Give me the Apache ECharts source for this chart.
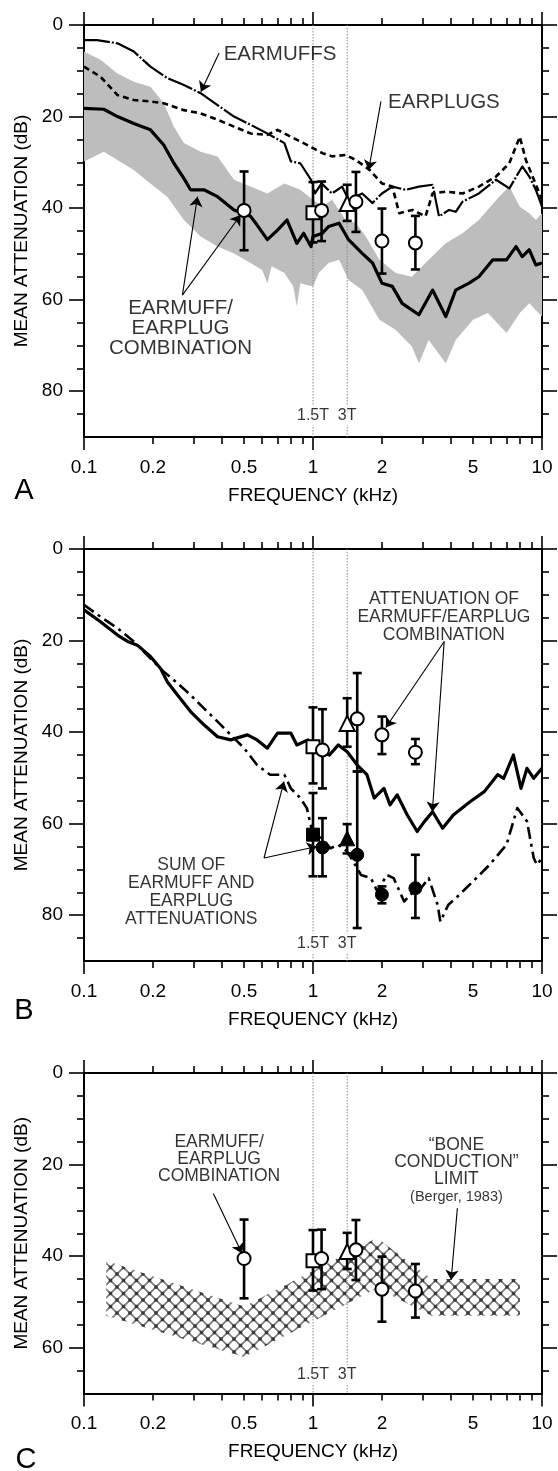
<!DOCTYPE html>
<html>
<head>
<meta charset="utf-8">
<script src="https://cdn.jsdelivr.net/npm/echarts@6/dist/echarts.min.js"></script>
<style>
  html, body { margin: 0; padding: 0; background: #fff; }
  #chart { width: 558px; height: 1471px; }
</style>
</head>
<body>
<div id="chart"></div>
<script>
// ---- axis ticks ----
const xLabelVals = [0.1, 0.2, 0.5, 1, 2, 5, 10];
const xMajorTicks = [0.1, 1, 10];
const xMinorTicks = [0.2, 0.3, 0.4, 0.5, 0.6, 0.7, 0.8, 0.9, 2, 3, 4, 5, 6, 7, 8, 9];
const yLabels90 = [0, 20, 40, 60, 80];
const yMinor90 = [5, 10, 15, 25, 30, 35, 45, 50, 55, 65, 70, 75, 85];
const yLabels70 = [0, 20, 40, 60];
const yMinor70 = [5, 10, 15, 25, 30, 35, 45, 50, 55, 65];
const tagFreq = [1, 1.41];
const tagText = ['1.5T', '3T'];

// ---- panel A ----
const aMuffFreq = [0.1, 0.114, 0.14, 0.165, 0.195, 0.231, 0.273, 0.323, 0.383, 0.452, 0.534, 0.632, 0.75, 0.8, 0.88, 0.98, 1.02, 1.09, 1.21, 1.34, 1.43, 1.64, 1.82, 2.0, 2.22, 2.54, 2.9, 3.33, 3.55, 3.93, 4.2, 4.5, 5.3, 6.3, 7.2, 8.2, 8.8, 9.4, 10];
const aMuffDb = [3.3, 3.3, 4.0, 5.8, 9.1, 11.6, 13.1, 14.9, 17.5, 20.0, 21.8, 23.7, 25.8, 29.8, 30.2, 33.8, 36.8, 34.6, 36.8, 35.3, 38.2, 36.8, 38.9, 36.8, 35.3, 36.0, 35.3, 34.9, 41.8, 40.4, 40.8, 38.6, 36.8, 33.8, 35.7, 30.9, 33.1, 36.0, 39.7];

const aPlugFreq = [0.1, 0.118, 0.14, 0.165, 0.195, 0.223, 0.273, 0.323, 0.383, 0.452, 0.534, 0.632, 0.70, 0.80, 0.91, 1.0, 1.10, 1.21, 1.39, 1.54, 1.77, 2.0, 2.22, 2.38, 2.72, 3.1, 3.33, 3.8, 4.5, 5.3, 6.3, 7.2, 8.0, 8.5, 9.1, 10];
const aPlugDb = [9.1, 11.3, 15.3, 16.4, 16.7, 17.1, 18.6, 19.3, 20.7, 22.2, 23.7, 24.0, 22.9, 24.4, 25.8, 26.9, 28.0, 28.7, 28.4, 29.5, 31.7, 34.6, 35.3, 41.1, 40.4, 41.8, 36.8, 36.4, 36.8, 35.3, 33.1, 30.2, 24.4, 29.5, 33.1, 38.2];

const aComboFreq = [0.1, 0.122, 0.14, 0.165, 0.195, 0.223, 0.247, 0.273, 0.292, 0.334, 0.383, 0.452, 0.534, 0.57, 0.632, 0.70, 0.77, 0.85, 0.91, 0.98, 1.0, 1.1, 1.17, 1.3, 1.43, 1.64, 1.82, 2.0, 2.22, 2.45, 2.9, 3.33, 3.8, 4.2, 4.8, 5.3, 6.1, 7.0, 7.7, 8.2, 8.8, 9.4, 10];
const aComboDb = [18.2, 18.4, 20.0, 21.5, 22.9, 26.2, 30.2, 33.5, 36.0, 36.0, 37.5, 40.4, 41.8, 43.7, 46.9, 44.8, 42.6, 47.7, 45.5, 48.4, 46.2, 45.5, 44.0, 43.3, 46.9, 49.9, 52.0, 56.4, 57.1, 60.8, 63.3, 57.9, 63.7, 57.9, 56.4, 55.0, 51.3, 51.3, 48.4, 50.6, 49.1, 52.4, 52.0];

const aBandTopFreq = [0.1, 0.118, 0.14, 0.165, 0.195, 0.223, 0.247, 0.273, 0.323, 0.383, 0.452, 0.534, 0.632, 0.75, 0.88, 1.0, 1.1, 1.21, 1.39, 1.54, 1.7, 1.95, 2.3, 2.7, 3.2, 3.8, 4.5, 5.3, 6.5, 7.2, 8.0, 8.8, 9.4, 10];
const aBandTopDb = [5.8, 7.6, 10.6, 12.4, 13.5, 17.1, 22.2, 25.8, 27.7, 28.7, 33.8, 35.3, 36.8, 34.6, 36.0, 38.2, 39.7, 38.2, 42.6, 43.3, 46.2, 51.3, 54.2, 55.0, 51.3, 47.7, 45.5, 42.6, 37.5, 35.3, 39.7, 41.1, 42.6, 41.1];
const aBandBotFreq = [0.1, 0.122, 0.14, 0.165, 0.195, 0.231, 0.273, 0.323, 0.383, 0.452, 0.534, 0.6, 0.632, 0.66, 0.75, 0.82, 0.85, 0.88, 1.0, 1.06, 1.17, 1.3, 1.43, 1.64, 1.95, 2.3, 2.7, 2.9, 3.2, 3.8, 4.2, 5.0, 5.8, 7.0, 8.0, 8.8, 10];
const aBandBotDb = [29.8, 27.7, 29.5, 31.7, 34.6, 37.5, 42.6, 46.2, 48.4, 49.9, 52.0, 53.5, 56.4, 52.7, 54.2, 57.1, 61.5, 56.4, 57.1, 54.2, 52.0, 51.3, 55.7, 57.9, 64.4, 66.6, 70.2, 73.9, 68.8, 73.9, 68.8, 64.4, 62.9, 67.3, 62.9, 60.8, 63.7];

// open symbols, panels A and C
const ptFreq = [0.5, 1.0, 1.09, 1.41, 1.54, 2.0, 2.8];
const ptShape = ['circle', 'rect', 'circle', 'triangle', 'circle', 'circle', 'circle'];
const ptMean = [40.5, 41.0, 40.5, 39.0, 38.6, 47.2, 47.6];
const ptLow = [32.0, 34.3, 34.2, 34.9, 32.1, 40.1, 41.7];
const ptHigh = [49.2, 47.5, 47.2, 42.8, 45.2, 54.3, 53.4];

// ---- panel B ----
const bComboFreq = [0.1, 0.118, 0.14, 0.155, 0.171, 0.195, 0.216, 0.231, 0.256, 0.292, 0.334, 0.383, 0.437, 0.517, 0.57, 0.632, 0.70, 0.80, 0.85, 0.95, 1.0, 1.11, 1.18, 1.29, 1.41, 1.56, 1.72, 1.85, 2.04, 2.17, 2.33, 2.58, 2.85, 3.07, 3.33, 3.68, 4.1, 4.85, 5.6, 6.4, 6.8, 7.5, 8.1, 8.6, 9.2, 10];
const bComboDb = [13.3, 15.9, 18.8, 20.2, 21.0, 23.5, 26.1, 29.0, 31.9, 35.5, 38.4, 41.0, 41.7, 40.6, 41.7, 43.5, 40.2, 40.2, 42.8, 41.7, 42.8, 44.3, 45.0, 42.8, 44.3, 47.2, 49.3, 54.4, 52.3, 55.9, 53.7, 58.1, 61.7, 59.5, 57.4, 61.0, 58.1, 55.2, 53.0, 49.3, 50.1, 45.0, 52.3, 47.9, 50.1, 47.9];

const bSumFreq = [0.1, 0.118, 0.14, 0.165, 0.195, 0.223, 0.256, 0.292, 0.334, 0.383, 0.437, 0.50, 0.57, 0.65, 0.75, 0.80, 0.88, 0.94, 1.0, 1.1, 1.19, 1.29, 1.41, 1.50, 1.62, 1.79, 1.91, 2.1, 2.25, 2.5, 2.75, 2.96, 3.2, 3.5, 3.6, 3.9, 4.2, 5.0, 5.9, 7.0, 7.8, 8.6, 9.2, 9.5, 10];
const bSumDb = [12.2, 14.8, 17.3, 20.2, 23.9, 26.8, 29.3, 31.9, 34.8, 37.7, 40.6, 43.5, 47.2, 49.3, 49.3, 52.3, 54.4, 56.6, 62.4, 63.2, 65.4, 64.6, 66.1, 68.3, 71.2, 71.9, 74.8, 71.2, 71.9, 77.0, 74.8, 74.1, 71.9, 77.7, 81.4, 77.7, 76.3, 72.6, 69.0, 64.6, 56.6, 59.5, 67.5, 69.0, 67.5];

const bOpenFreq = [1.0, 1.1, 1.41, 1.56, 2.0, 2.8];
const bOpenShape = ['rect', 'circle', 'triangle', 'circle', 'circle', 'circle'];
const bOpenMean = [43.2, 43.9, 38.1, 37.1, 40.6, 44.4];
const bOpenLow = [34.6, 35.0, 32.6, 27.1, 36.6, 41.5];
const bOpenHigh = [51.2, 52.3, 43.2, 48.6, 44.8, 47.0];

const bFillFreq = [1.0, 1.1, 1.41, 1.56, 2.0, 2.8];
const bFillShape = ['rect', 'circle', 'triangle', 'circle', 'circle', 'circle'];
const bFillMean = [62.4, 65.2, 63.2, 66.8, 75.5, 74.1];
const bFillLow = [53.3, 58.8, 60.1, 48.6, 73.7, 66.8];
const bFillHigh = [71.5, 71.5, 66.5, 82.8, 77.4, 80.6];

// ---- panel C: bone conduction limit band ----
const boneFreq = [0.125, 0.5, 1.9, 3.3, 8];
const boneTopDb = [41, 51, 36, 45, 45];
const boneBotDb = [53, 62, 47, 53, 53];

const FONT = '"Liberation Sans", Arial, Helvetica, sans-serif';
const BLACK = '#000';

function zip(a, b) { return a.map((v, i) => [v, b[i]]); }

function xAxes(grid) {
  const base = {
    type: 'log', logBase: 10, min: 0.1, max: 10, gridIndex: grid,
    splitLine: { show: false }, minorTick: { show: false }
  };
  const line = { show: true, onZero: false, lineStyle: { color: BLACK, width: 2 } };
  const noLine = { show: false, onZero: false };
  const tickStyle = { color: BLACK, width: 1.6 };
  return [
    Object.assign({}, base, {
      position: 'bottom', axisLine: line,
      axisTick: { show: true, customValues: xMajorTicks, length: 13, lineStyle: tickStyle },
      axisLabel: {
        show: true, customValues: xLabelVals, margin: 21, fontSize: 19,
        fontFamily: FONT, color: BLACK, formatter: v => String(+(+v).toPrecision(3))
      },
      name: 'FREQUENCY (kHz)', nameLocation: 'middle', nameGap: 49,
      nameTextStyle: { fontSize: 19, fontFamily: FONT, color: BLACK }
    }),
    Object.assign({}, base, {
      position: 'bottom', axisLine: noLine,
      axisTick: { show: true, customValues: xMinorTicks, length: 7, lineStyle: tickStyle },
      axisLabel: { show: false }
    }),
    Object.assign({}, base, {
      position: 'top', axisLine: line,
      axisTick: { show: true, customValues: xMajorTicks, length: 13, lineStyle: tickStyle },
      axisLabel: { show: false }
    }),
    Object.assign({}, base, {
      position: 'top', axisLine: noLine,
      axisTick: { show: true, customValues: xMinorTicks, length: 7, lineStyle: tickStyle },
      axisLabel: { show: false }
    })
  ];
}

function yAxes(grid, max, labels, minor) {
  const base = {
    type: 'value', inverse: true, min: 0, max: max, gridIndex: grid,
    splitLine: { show: false }
  };
  const line = { show: true, onZero: false, lineStyle: { color: BLACK, width: 2 } };
  const noLine = { show: false, onZero: false };
  const tickStyle = { color: BLACK, width: 1.6 };
  return [
    Object.assign({}, base, {
      position: 'left', axisLine: line,
      axisTick: { show: true, customValues: labels, length: 15, lineStyle: tickStyle },
      axisLabel: { show: true, customValues: labels, margin: 21, fontSize: 19, fontFamily: FONT, color: BLACK },
      name: 'MEAN ATTENUATION (dB)', nameLocation: 'middle', nameGap: 50, nameRotate: 90,
      nameTextStyle: { fontSize: 19, fontFamily: FONT, color: BLACK }
    }),
    Object.assign({}, base, {
      position: 'left', axisLine: noLine,
      axisTick: { show: true, customValues: minor, length: 7, lineStyle: tickStyle },
      axisLabel: { show: false }
    }),
    Object.assign({}, base, {
      position: 'right', axisLine: line,
      axisTick: { show: true, customValues: labels, length: 15, lineStyle: tickStyle },
      axisLabel: { show: false }
    }),
    Object.assign({}, base, {
      position: 'right', axisLine: noLine,
      axisTick: { show: true, customValues: minor, length: 7, lineStyle: tickStyle },
      axisLabel: { show: false }
    })
  ];
}

// crosshatch tile for the bone conduction band
function hatchTile() {
  const c = document.createElement('canvas');
  c.width = 13; c.height = 13;
  const g = c.getContext('2d');
  g.strokeStyle = '#7a7a7a';
  g.lineWidth = 1.7;
  g.beginPath();
  g.moveTo(0, 0); g.lineTo(13, 13);
  g.moveTo(13, 0); g.lineTo(0, 13);
  g.stroke();
  g.fillStyle = '#3a3a3a';
  [[6.5, 6.5], [0, 0], [13, 0], [0, 13], [13, 13]].forEach(p => g.fillRect(p[0] - 1.7, p[1] - 1.7, 3.4, 3.4));
  return c;
}

function ax(p) { return { xAxisIndex: p * 4, yAxisIndex: p * 4 }; }

function bandSeries(p, topF, topD, botF, botD, fill) {
  const top = zip(topF, topD), bot = zip(botF, botD).reverse();
  return Object.assign({
    type: 'custom', z: 1, silent: true,
    data: [[1, 50]],
    renderItem: (params, api) => ({
      type: 'polygon',
      shape: { points: top.concat(bot).map(d => api.coord(d)) },
      style: { fill: fill, stroke: null }
    })
  }, ax(p));
}

function lineSeries(p, f, d, width, dash) {
  return Object.assign({
    type: 'line', z: 3, silent: true, showSymbol: false, symbol: 'none',
    data: zip(f, d),
    lineStyle: { color: BLACK, width: width, type: dash || 'solid', cap: 'butt', join: 'round' }
  }, ax(p));
}

function tagLines(p, max) {
  return Object.assign({
    type: 'custom', z: 2, silent: true,
    data: tagFreq.map(f => [f]),
    renderItem: (params, api) => {
      const a = api.coord([api.value(0), 0]);
      const b = api.coord([api.value(0), max]);
      return {
        type: 'line',
        shape: { x1: a[0], y1: a[1], x2: b[0], y2: b[1] },
        style: { stroke: '#8a8a8a', lineWidth: 1, lineDash: [1.5, 1.5] }
      };
    }
  }, ax(p));
}

function errorBars(p, f, lo, hi) {
  return Object.assign({
    type: 'custom', z: 4, silent: true,
    data: f.map((v, i) => [v, lo[i], hi[i]]),
    encode: { x: 0, y: [1, 2] },
    renderItem: (params, api) => {
      const a = api.coord([api.value(0), api.value(1)]);
      const b = api.coord([api.value(0), api.value(2)]);
      const w = 4.5;
      const st = { stroke: BLACK, lineWidth: 2.6 };
      return {
        type: 'group',
        children: [
          { type: 'line', shape: { x1: a[0], y1: a[1], x2: b[0], y2: b[1] }, style: st },
          { type: 'line', shape: { x1: a[0] - w, y1: a[1], x2: a[0] + w, y2: a[1] }, style: st },
          { type: 'line', shape: { x1: b[0] - w, y1: b[1], x2: b[0] + w, y2: b[1] }, style: st }
        ]
      };
    }
  }, ax(p));
}

const symSize = { circle: 13, rect: 13, triangle: 15 };
function markers(p, f, mean, shapes, filled) {
  return Object.assign({
    type: 'scatter', z: 5, silent: true,
    data: f.map((v, i) => ({ value: [v, mean[i]], symbol: shapes[i], symbolSize: symSize[shapes[i]] })),
    itemStyle: filled
      ? { color: BLACK, borderColor: BLACK, borderWidth: 1, opacity: 1 }
      : { color: '#fff', borderColor: BLACK, borderWidth: 2, opacity: 1 }
  }, ax(p));
}

function texts(p, items, size, lh, bg) {
  return Object.assign({
    type: 'scatter', z: 6, silent: true, symbolSize: 1,
    itemStyle: { color: 'rgba(0,0,0,0)' },
    data: items.map(t => ({
      value: [t[0], t[1]],
      label: {
        show: true, position: 'inside', formatter: t[2], align: 'center', verticalAlign: 'middle',
        fontSize: size, lineHeight: lh, fontFamily: FONT, color: BLACK,
        backgroundColor: bg || 'transparent', padding: bg ? [2, 1] : 0
      }
    }))
  }, ax(p));
}

function arrows(p, segs) {
  return Object.assign({
    type: 'lines', coordinateSystem: 'cartesian2d', z: 6, silent: true,
    symbol: ['none', 'arrow'], symbolSize: 10,
    lineStyle: { color: BLACK, width: 1.1, opacity: 1, curveness: 0 },
    data: segs.map(s => ({ coords: s }))
  }, ax(p));
}

const tagsA = tagFreq.map((f, i) => [f, 85.3, tagText[i]]);
const tagsB = tagFreq.map((f, i) => [f, 86.1, tagText[i]]);
const tagsC = tagFreq.map((f, i) => [f, 65.9, tagText[i]]);

const option = {
  animation: false,
  backgroundColor: '#fff',
  grid: [
    { left: 84, right: 16, top: 25, height: 412 },
    { left: 84, right: 16, top: 549, height: 412 },
    { left: 84, right: 16, top: 1073, height: 320.6 }
  ],
  xAxis: [].concat(xAxes(0), xAxes(1), xAxes(2)),
  yAxis: [].concat(yAxes(0, 90, yLabels90, yMinor90), yAxes(1, 90, yLabels90, yMinor90), yAxes(2, 70, yLabels70, yMinor70)),
  graphic: [
    { type: 'text', x: 24, y: 491, style: { text: 'A', font: '29px ' + FONT, fill: BLACK, align: 'center', verticalAlign: 'middle' } },
    { type: 'text', x: 24, y: 1011, style: { text: 'B', font: '29px ' + FONT, fill: BLACK, align: 'center', verticalAlign: 'middle' } },
    { type: 'text', x: 26, y: 1460, style: { text: 'C', font: '29px ' + FONT, fill: BLACK, align: 'center', verticalAlign: 'middle' } }
  ],
  series: [
    // panel A
    bandSeries(0, aBandTopFreq, aBandTopDb, aBandBotFreq, aBandBotDb, '#bdbdbd'),
    tagLines(0, 90),
    lineSeries(0, aMuffFreq, aMuffDb, 2.2, [26, 2, 2, 2]),
    lineSeries(0, aPlugFreq, aPlugDb, 2.6, [6, 4]),
    lineSeries(0, aComboFreq, aComboDb, 3.2),
    errorBars(0, ptFreq, ptLow, ptHigh),
    markers(0, ptFreq, ptMean, ptShape, false),
    texts(0, [[0.718, 6.5, 'EARMUFFS'], [3.73, 17.0, 'EARPLUGS'],
              [0.264, 66.2, 'EARMUFF/\nEARPLUG\nCOMBINATION']], 20.5, 20),
    texts(0, tagsA, 16, 16, '#fff'),
    arrows(0, [
      [[0.389, 6.1], [0.324, 14.6]],
      [[1.98, 16.7], [1.75, 31.7]],
      [[0.269, 59.0], [0.313, 37.5]],
      [[0.269, 59.0], [0.483, 41.5]]
    ]),

    // panel B
    tagLines(1, 90),
    lineSeries(1, bSumFreq, bSumDb, 2.6, [12, 5, 3, 5]),
    lineSeries(1, bComboFreq, bComboDb, 3.2),
    errorBars(1, bOpenFreq, bOpenLow, bOpenHigh),
    errorBars(1, bFillFreq, bFillLow, bFillHigh),
    markers(1, bOpenFreq, bOpenMean, bOpenShape, false),
    markers(1, bFillFreq, bFillMean, bFillShape, true),
    texts(1, [[3.73, 14.8, 'ATTENUATION OF\nEARMUFF/EARPLUG\nCOMBINATION'],
              [0.294, 75.0, 'SUM OF\nEARMUFF AND\nEARPLUG\nATTENUATIONS']], 17.5, 18),
    texts(1, tagsB, 16, 16, '#fff'),
    arrows(1, [
      [[3.74, 20.2], [2.08, 39.0]],
      [[3.74, 20.2], [3.32, 57.4]],
      [[0.611, 67.5], [0.747, 50.8]],
      [[0.611, 67.5], [1.04, 65.0]]
    ]),

    // panel C
    bandSeries(2, boneFreq, boneTopDb, boneFreq, boneBotDb, { image: hatchTile(), repeat: 'repeat' }),
    tagLines(2, 70),
    errorBars(2, ptFreq, ptLow, ptHigh),
    markers(2, ptFreq, ptMean, ptShape, false),
    texts(2, [[0.389, 18.8, 'EARMUFF/\nEARPLUG\nCOMBINATION'],
              [4.23, 19.4, '\u201CBONE\nCONDUCTION\u201D\nLIMIT']], 17.5, 17),
    texts(2, [[4.23, 27.0, '(Berger, 1983)']], 14.5, 15),
    texts(2, tagsC, 16, 16, '#fff'),
    arrows(2, [
      [[0.367, 26.3], [0.49, 39.4]],
      [[4.27, 29.5], [4.01, 45.2]]
    ])
  ]
};

const chart = echarts.init(document.getElementById('chart'));
chart.setOption(option);
</script>
</body>
</html>
